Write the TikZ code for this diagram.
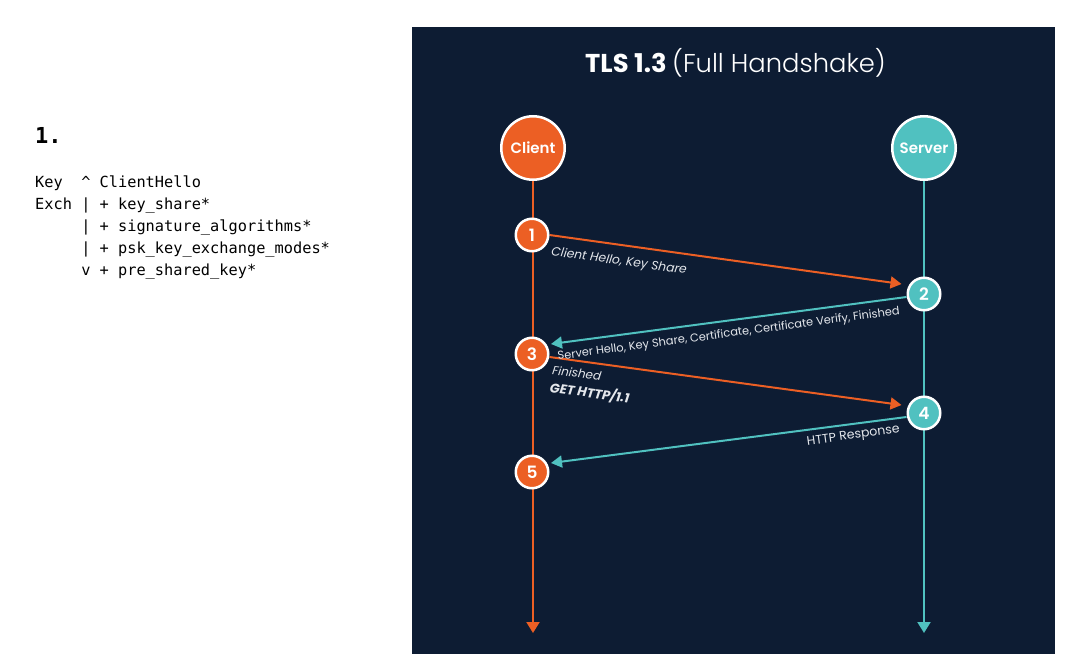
\documentclass[tikz,border=0pt]{standalone}
\usepackage{fontspec}
\setmainfont{Poppins}
\setmonofont{DejaVu Sans Mono}
\newfontfamily\poplight{Poppins Light}
\newfontfamily\popsemi{Poppins SemiBold}
\usetikzlibrary{arrows.meta,calc}
\definecolor{navy}{HTML}{0D1C33}
\definecolor{tlsorange}{HTML}{EC5F24}
\definecolor{tlsteal}{HTML}{50C1C0}
\definecolor{lbl}{HTML}{E4E7EC}
\pgfdeclarelayer{back}
\pgfdeclarelayer{mid}
\pgfsetlayers{back,mid,main}
\begin{document}
\begin{tikzpicture}[x=1pt,y=-1pt,
  party/.style={circle,draw=white,fill=#1,line width=2.5pt,minimum size=63.5pt,inner sep=0pt,text=white,font=\popsemi\fontsize{15}{15}\selectfont},
  stepnum/.style={circle,draw=white,fill=#1,line width=2.5pt,minimum size=32.5pt,inner sep=0pt,text=white,font=\popsemi\fontsize{17}{17}\selectfont},
  vline/.style={draw=#1,line width=2pt,-{Triangle[width=13pt,length=11pt]}},
  msg/.style={draw=#1,line width=2pt,-{Triangle[width=12pt,length=11pt]}},
  lab/.style={text=lbl,inner sep=0pt,align=left},
  code/.style={inner sep=0pt,anchor=base west,font=\ttfamily\fontsize{15.3}{22}\selectfont}
]
\useasboundingbox (0,0) rectangle (1068,666);
\begin{pgfonlayer}{back}
\fill[navy] (412,27) rectangle (1055,654);
\end{pgfonlayer}

% left column
\node[code,font=\ttfamily\bfseries\fontsize{22}{22}\selectfont] (h1) at (35,144) {1.};
\node[code] (c1) at (35,187) {Key~~\textasciicircum{} ClientHello};
\node[code] (c2) at (35,209) {Exch | + key\_share*};
\node[code] (c3) at (35,231) {~~~~~| + signature\_algorithms*};
\node[code] (c4) at (35,253) {~~~~~| + psk\_key\_exchange\_modes*};
\node[code] (c5) at (35,275) {~~~~~v + pre\_shared\_key*};

% title
\node[text=white,inner sep=0pt,anchor=base,font=\fontsize{25.8}{26}\selectfont] (title) at (735.5,73)
  {\bfseries TLS 1.3 \poplight\mdseries(Full Handshake)};

% parties
\node[party=tlsorange] (client) at (533,148) {Client};
\node[party=tlsteal] (server) at (924,148) {Server};
\coordinate (cend) at (533,633);
\coordinate (send) at (924,633);

% steps
\node[stepnum=tlsorange] (n1) at (532,235) {1};
\node[stepnum=tlsteal] (n2) at (924,294) {2};
\node[stepnum=tlsorange] (n3) at (532,354) {3};
\node[stepnum=tlsteal] (n4) at (924,413) {4};
\node[stepnum=tlsorange] (n5) at (532,472) {5};

\begin{pgfonlayer}{mid}
\draw[vline=tlsorange] (client) -- (cend);
\draw[vline=tlsteal] (server) -- (send);
\draw[msg=tlsorange] (n1.east) -- ($(n2.west)+(-5,-10)$);
\draw[msg=tlsteal] ($(n2.west)+(0,3)$) -- ($(n3.east)+(1.5,-10)$);
\draw[msg=tlsorange] ($(n3.east)+(0,3)$) -- ($(n4.west)+(-5,-8)$);
\draw[msg=tlsteal] ($(n4.west)+(0,4)$) -- ($(n5.east)+(1.5,-9)$);
\end{pgfonlayer}

% labels
\node[lab,rotate=-7.8,anchor=north west,font=\itshape\fontsize{12.3}{14}\selectfont] (l1) at (552,246) {Client Hello, Key Share};
\node[lab,rotate=7.6,anchor=north east,font=\fontsize{11.4}{13}\selectfont] (l2) at (899,305.5) {Server Hello, Key Share, Certificate, Certificate Verify, Finished};
\node[lab,rotate=-7.8,anchor=north west,font=\itshape\fontsize{12}{18}\selectfont] (l3) at (553,365) {Finished\\\bfseries\fontsize{13}{18}\selectfont GET HTTP/1.1};
\node[lab,rotate=7.6,anchor=north east,font=\fontsize{12.5}{14}\selectfont] (l4) at (899,424) {HTTP Response};
\end{tikzpicture}
\end{document}
